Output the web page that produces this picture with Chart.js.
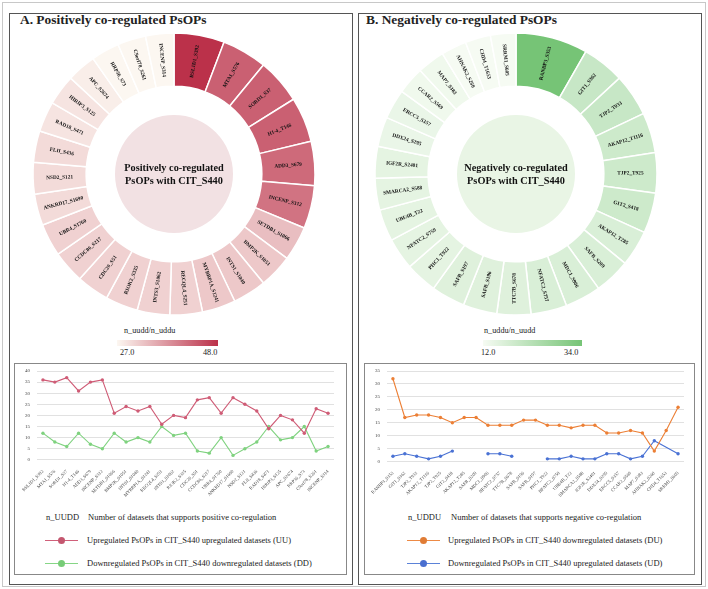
<!DOCTYPE html>
<html>
<head>
<meta charset="utf-8">
<script src="https://cdn.jsdelivr.net/npm/chart.js@4.4.0/dist/chart.umd.min.js"></script>
<style>
  body { margin: 0; width: 708px; height: 589px; position: relative; background: #fff; overflow: hidden; font-family: "Liberation Serif", "Times New Roman", serif; color: #222; }
  .abs { position: absolute; }
  .frame { left: 2px; top: 2px; width: 702px; height: 583px; border: 1px solid #c8c8c8; }
  .panel { top: 13px; height: 570px; border: 1px solid #555; }
  .title { top: 12px; font-weight: bold; font-size: 13.4px; white-space: nowrap; }
  .box { top: 363px; height: 210px; border: 1px solid #888; }
  .bar { top: 340px; height: 6px; }
  .small { font-size: 8.2px; white-space: nowrap; transform: translateY(-50%); }
  .leg { font-size: 8.5px; white-space: nowrap; transform: translateY(-50%); }
  .lline { height: 1.2px; width: 33px; }
  .ldot { width: 7px; height: 7px; border-radius: 50%; }
</style>
</head>
<body>
<div class="abs frame"></div>
<div class="abs panel" style="left:9px;width:342px"></div>
<div class="abs panel" style="left:358px;width:342px"></div>
<div class="abs title" style="left:20px">A. Positively co-regulated PsOPs</div>
<div class="abs title" style="left:366px">B. Negatively co-regulated PsOPs</div>

<canvas id="donutA" class="abs" width="300" height="300" style="left:24px;top:24px"></canvas>
<canvas id="donutB" class="abs" width="300" height="300" style="left:366px;top:24px"></canvas>

<div class="abs small" style="left:124px;top:330px">n_uudd/n_uddu</div>
<div class="abs bar" id="barA" style="left:117px;width:101px"></div>
<div class="abs small" style="left:120px;top:352px">27.0</div>
<div class="abs small" style="left:203px;top:352px">48.0</div>

<div class="abs small" style="left:484px;top:330px">n_uddu/n_uudd</div>
<div class="abs bar" id="barB" style="left:483px;width:99px"></div>
<div class="abs small" style="left:481px;top:352px">12.0</div>
<div class="abs small" style="left:564px;top:352px">34.0</div>

<div class="abs box" style="left:14px;width:331px"></div>
<div class="abs box" style="left:364px;width:329px"></div>
<canvas id="lineA" class="abs" width="322" height="138" style="left:18px;top:361px"></canvas>
<canvas id="lineB" class="abs" width="322" height="138" style="left:368px;top:361px"></canvas>

<div class="abs leg" style="left:46px;top:517px">n_UUDD</div>
<div class="abs leg" style="left:88px;top:517px">Number of datasets that supports positive co-regulation</div>
<div class="abs lline" style="left:45px;top:540px;background:#d0607a"></div>
<div class="abs ldot" style="left:58px;top:537px;background:#c4576f"></div>
<div class="abs leg" style="left:87px;top:540px">Upregulated PsOPs in CIT_S440 upregulated datasets (UU)</div>
<div class="abs lline" style="left:45px;top:563px;background:#86d686"></div>
<div class="abs ldot" style="left:58px;top:560px;background:#77cc77"></div>
<div class="abs leg" style="left:87px;top:563px">Downregulated PsOPs in CIT_S440 downregulated datasets (DD)</div>

<div class="abs leg" style="left:408px;top:517px">n_UDDU</div>
<div class="abs leg" style="left:451px;top:517px">Number of datasets that supports negative co-regulation</div>
<div class="abs lline" style="left:407px;top:540px;background:#ed8a45"></div>
<div class="abs ldot" style="left:420px;top:537px;background:#e07c35"></div>
<div class="abs leg" style="left:448px;top:540px">Upregulated PsOPs in CIT_S440 downregulated datasets (DU)</div>
<div class="abs lline" style="left:407px;top:563px;background:#5b82d8"></div>
<div class="abs ldot" style="left:420px;top:560px;background:#4a6fd0"></div>
<div class="abs leg" style="left:448px;top:563px">Downregulated PsOPs in CIT_S440 upregulated datasets (UD)</div>

<script>
// --- data ---
const posLabels = ['RSL1D1_S392', 'MTA1_S576', 'SORD1_S37', 'H1-4_T146', 'ADD3_S679', 'INCENP_S312',
  'SETDB1_S1066', 'BMP2K_S1051', 'INTS1_S1040', 'MYBBP1A_S1241', 'RECQL4_S251', 'INTS3_S1062',
  'RIOK2_S335', 'CDC20_S51', 'CCDC86_S217', 'UBR4_S1760', 'ANKRD17_S1690', 'NSD2_S121', 'FLII_S436',
  'RAD18_S471', 'HIRIP3_S125', 'APC_S2674', 'RRP36_S73', 'C9orf78_S261', 'INCENP_S314'];
const posTotal = [48, 43, 43, 43, 42, 41, 33, 32, 32, 32, 31, 31, 31, 31, 31, 31, 30, 30, 30, 29, 29, 28, 27, 27, 27];
const posUU = [36, 35, 37, 31, 35, 36, 21, 24, 22, 24, 16, 20, 19, 27, 28, 21, 28, 25, 22, 14, 20, 18, 12, 23, 21];
const posDD = [12, 8, 6, 12, 7, 5, 12, 8, 10, 8, 15, 11, 12, 4, 3, 10, 2, 5, 8, 15, 9, 10, 15, 4, 6];

const negLabels = ['RANBP3_S353', 'GIT1_S362', 'TJP2_T933', 'AKAP12_T1116', 'TJP2_T925', 'GIT2_S418',
  'AKAP12_T285', 'SAFB_S209', 'MDC1_S906', 'NFATC2_S757', 'TTC7B_S678', 'SAFB_S196', 'SAFB_S197',
  'PHC1_T922', 'NFATC2_S759', 'UBE4B_T22', 'SMARCA2_S588', 'IGF2R_S2401', 'DDX24_S295', 'ERCC5_S357',
  'CCAR2_S569', 'MAP7_S383', 'AHNAK2_S260', 'CHD4_T1653', 'SRRM1_S605'];
const negTotal = [34, 20, 20, 19, 19, 19, 17, 17, 17, 17, 16, 16, 16, 15, 15, 15, 15, 15, 14, 14, 13, 13, 12, 12, 12];
const negDU = [32, 17, 18, 18, 17, 15, 17, 17, 14, 14, 14, 16, 16, 14, 14, 13, 14, 14, 11, 11, 12, 11, 4, 12, 21];
const negUD = [2, 3, 2, 1, 2, 4, null, null, 3, 3, 2, null, null, 1, 1, 2, 1, 1, 3, 3, 1, 2, 8, null, 3];

const posScale = [27, 48];
const negScale = [12, 34];
const posYTicks = [0, 40];
const negYTicks = [0, 35];

const serif = '"Liberation Serif", "Times New Roman", serif';
const redLo = [252, 247, 241], redHi = [187, 49, 74];
const grnLo = [246, 251, 243], grnHi = [118, 196, 118];

function mix(a, b, t) {
  t = Math.max(0, Math.min(1, t));
  return 'rgb(' + a.map((v, i) => Math.round(v + (b[i] - v) * t)).join(',') + ')';
}

document.getElementById('barA').style.background = 'linear-gradient(to right,' + mix(redLo, redHi, 0) + ',' + mix(redLo, redHi, 1) + ')';
document.getElementById('barB').style.background = 'linear-gradient(to right,' + mix(grnLo, grnHi, 0) + ',' + mix(grnLo, grnHi, 1) + ')';

// radial labels + centre disc for the doughnuts
const ringText = {
  id: 'ringText',
  afterDatasetsDraw(chart, args, opts) {
    const ctx = chart.ctx;
    const meta = chart.getDatasetMeta(0);
    const first = meta.data[0];
    ctx.save();
    ctx.beginPath();
    ctx.arc(first.x, first.y, opts.discR, 0, Math.PI * 2);
    ctx.fillStyle = opts.disc;
    ctx.fill();
    ctx.fillStyle = '#111';
    ctx.font = 'bold 10.3px ' + serif;
    ctx.textAlign = 'center';
    ctx.textBaseline = 'middle';
    ctx.fillText(opts.lines[0], first.x, first.y - 6);
    ctx.fillText(opts.lines[1], first.x, first.y + 7);

    ctx.font = 'bold 5.3px ' + serif;
    meta.data.forEach((arc, i) => {
      const p = arc.getProps(['x', 'y', 'startAngle', 'endAngle', 'innerRadius', 'outerRadius'], true);
      const a = (p.startAngle + p.endAngle) / 2;
      const r = (p.innerRadius + p.outerRadius) / 2;
      ctx.save();
      ctx.translate(p.x + r * Math.cos(a), p.y + r * Math.sin(a));
      ctx.rotate(Math.cos(a) >= 0 ? a : a + Math.PI);
      ctx.fillText(chart.data.labels[i], 0, 0);
      ctx.restore();
    });
    ctx.restore();
  }
};

function donut(id, labels, values, range, lo, hi, disc, lines) {
  new Chart(document.getElementById(id), {
    type: 'doughnut',
    data: {
      labels: labels,
      datasets: [{
        data: values,
        backgroundColor: values.map(v => mix(lo, hi, (v - range[0]) / (range[1] - range[0]))),
        borderColor: '#fff',
        borderWidth: 1.5
      }]
    },
    options: {
      responsive: false,
      animation: false,
      radius: 141,
      cutout: 93,
      plugins: {
        legend: { display: false },
        tooltip: { enabled: false },
        ringText: { disc: disc, discR: 59, lines: lines }
      }
    },
    plugins: [ringText]
  });
}

donut('donutA', posLabels, posTotal, posScale, redLo, redHi, '#f2e1e3', ['Positively co-regulated', 'PsOPs with CIT_S440']);
donut('donutB', negLabels, negTotal, negScale, grnLo, grnHi, '#e9f5e5', ['Negatively co-regulated', 'PsOPs with CIT_S440']);

// length of the run of missing values that contains index i (0 if the value exists)
function gapRun(data, i) {
  if (data[i] !== null) return 0;
  let a = i, b = i;
  while (a > 0 && data[a - 1] === null) a--;
  while (b < data.length - 1 && data[b + 1] === null) b++;
  return b - a + 1;
}

function lineChart(id, labels, sets, yRange) {
  new Chart(document.getElementById(id), {
    type: 'line',
    data: {
      labels: labels,
      datasets: sets.map(s => ({
        data: s.data,
        borderColor: s.color,
        backgroundColor: s.color,
        borderWidth: 1.1,
        pointRadius: 1.7,
        pointBorderWidth: 0,
        tension: 0,
        spanGaps: true,
        segment: {
          // only bridge a single missing value
          borderColor: ctx => (gapRun(s.data, ctx.p0DataIndex) > 1 || gapRun(s.data, ctx.p1DataIndex) > 1 ? 'transparent' : undefined)
        }
      }))
    },
    options: {
      responsive: false,
      animation: false,
      layout: { padding: { top: 6, right: 6, left: 0, bottom: 0 } },
      plugins: { legend: { display: false }, tooltip: { enabled: false } },
      scales: {
        x: {
          offset: true,
          grid: { display: false },
          border: { display: false },
          ticks: { autoSkip: false, minRotation: 45, maxRotation: 45, padding: 1, color: '#444', font: { size: 4.6, family: serif } }
        },
        y: {
          min: yRange[0],
          max: yRange[1],
          border: { display: false },
          grid: { color: '#d9d9d9', lineWidth: 0.8, drawTicks: false },
          ticks: { stepSize: 5, padding: 7, color: '#444', font: { size: 5, family: serif } }
        }
      }
    }
  });
}

lineChart('lineA', posLabels, [
  { data: posUU, color: '#cf5c76' },
  { data: posDD, color: '#7fd27f' }
], posYTicks);
lineChart('lineB', negLabels, [
  { data: negDU, color: '#ec7f35' },
  { data: negUD, color: '#4a72d4' }
], negYTicks);
</script>
</body>
</html>
